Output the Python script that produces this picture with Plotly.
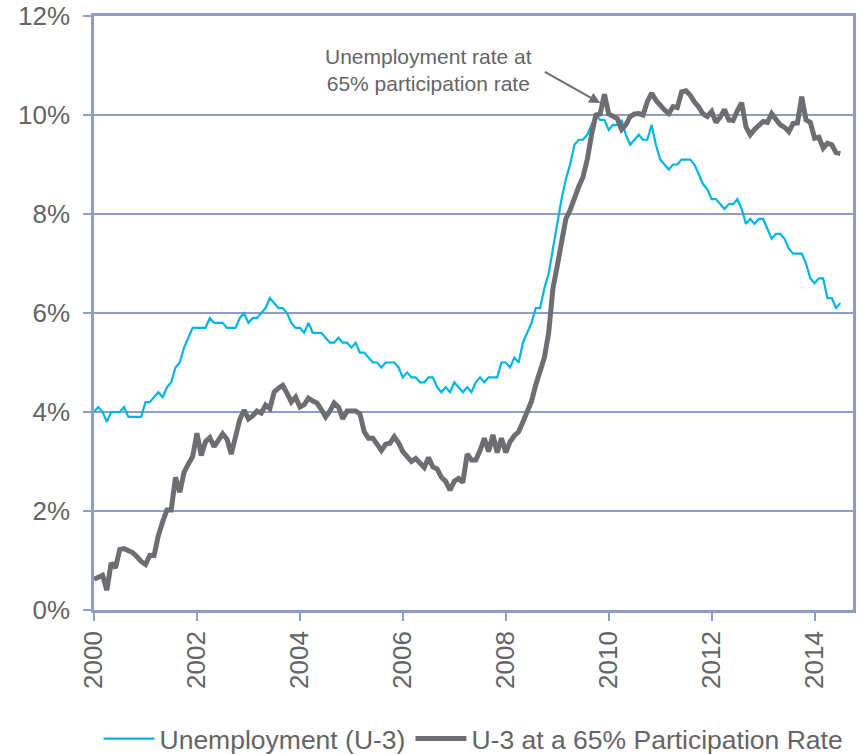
import plotly.graph_objects as go

# Monthly values, Jan 2000 .. Jul 2014
u3 = [
    4.0, 4.1, 4.0, 3.8, 4.0, 4.0, 4.0, 4.1, 3.9, 3.9, 3.9, 3.9,
    4.2, 4.2, 4.3, 4.4, 4.3, 4.5, 4.6, 4.9, 5.0, 5.3, 5.5, 5.7,
    5.7, 5.7, 5.7, 5.9, 5.8, 5.8, 5.8, 5.7, 5.7, 5.7, 5.9, 6.0,
    5.8, 5.9, 5.9, 6.0, 6.1, 6.3, 6.2, 6.1, 6.1, 6.0, 5.8, 5.7,
    5.7, 5.6, 5.8, 5.6, 5.6, 5.6, 5.5, 5.4, 5.4, 5.5, 5.4, 5.4,
    5.3, 5.4, 5.2, 5.2, 5.1, 5.0, 5.0, 4.9, 5.0, 5.0, 5.0, 4.9,
    4.7, 4.8, 4.7, 4.7, 4.6, 4.6, 4.7, 4.7, 4.5, 4.4, 4.5, 4.4,
    4.6, 4.5, 4.4, 4.5, 4.4, 4.6, 4.7, 4.6, 4.7, 4.7, 4.7, 5.0,
    5.0, 4.9, 5.1, 5.0, 5.4, 5.6, 5.8, 6.1, 6.1, 6.5, 6.8, 7.3,
    7.8, 8.3, 8.7, 9.0, 9.4, 9.5, 9.5, 9.6, 9.8, 10.0, 9.9, 9.9,
    9.7, 9.8, 9.8, 9.9, 9.6, 9.4, 9.5, 9.6, 9.5, 9.5, 9.8, 9.4,
    9.1, 9.0, 8.9, 9.0, 9.0, 9.1, 9.1, 9.1, 9.0, 8.8, 8.6, 8.5,
    8.3, 8.3, 8.2, 8.1, 8.2, 8.2, 8.3, 8.1, 7.8, 7.9, 7.8, 7.9,
    7.9, 7.7, 7.5, 7.6, 7.6, 7.5, 7.3, 7.2, 7.2, 7.2, 7.0, 6.7,
    6.6, 6.7, 6.7, 6.3, 6.3, 6.1, 6.2,
]

u3_65 = [
    0.62, 0.66, 0.70, 0.40, 0.95, 0.85, 1.22, 1.24, 1.20, 1.16, 1.08, 0.98,
    0.92, 1.10, 1.10, 1.50, 1.78, 2.02, 2.02, 2.68, 2.38, 2.78, 2.95, 3.10,
    3.57, 3.12, 3.40, 3.48, 3.30, 3.45, 3.56, 3.45, 3.15, 3.50, 3.85, 4.04,
    3.86, 3.92, 4.02, 3.98, 4.14, 4.07, 4.40, 4.48, 4.54, 4.38, 4.20, 4.30,
    4.10, 4.15, 4.28, 4.22, 4.18, 4.05, 3.90, 4.02, 4.18, 4.10, 3.86, 4.02,
    4.03, 4.02, 3.96, 3.60, 3.47, 3.47, 3.35, 3.22, 3.35, 3.37, 3.50, 3.38,
    3.20, 3.08, 3.00, 3.06, 2.95, 2.88, 3.08, 2.89, 2.85, 2.68, 2.60, 2.42,
    2.60, 2.66, 2.58, 3.15, 3.03, 3.03, 3.22, 3.47, 3.20, 3.54, 3.18, 3.47,
    3.18, 3.40, 3.52, 3.60, 3.80, 4.00, 4.22, 4.55, 4.80, 5.10, 5.60, 6.50,
    6.95, 7.50, 7.90, 8.08, 8.35, 8.55, 8.75, 9.10, 9.60, 10.00, 10.02, 10.42,
    10.02, 9.98, 9.93, 9.71, 9.80, 9.97, 10.02, 10.03, 10.00, 10.27, 10.44, 10.30,
    10.18, 10.10, 10.03, 10.17, 10.15, 10.47, 10.49, 10.40, 10.26, 10.16, 10.02, 9.97,
    10.07, 9.85, 9.96, 10.11, 9.90, 9.89, 10.09, 10.25, 9.76, 9.60, 9.71, 9.80,
    9.87, 9.85, 10.03, 9.91, 9.80, 9.75, 9.66, 9.83, 9.84, 10.37, 9.90, 9.85,
    9.53, 9.55, 9.33, 9.43, 9.40, 9.24, 9.22,
]

start_year = 2000
x_vals = [start_year + i / 12 for i in range(len(u3))]

year_ticks = [2000, 2002, 2004, 2006, 2008, 2010, 2012, 2014]
y_ticks = [0, 2, 4, 6, 8, 10, 12]

series_names = ["Unemployment (U-3)", "U-3 at a 65% Participation Rate"]
annotation_text = "Unemployment rate at<br>65% participation rate"

TEXT = "#646466"
GRID = "#8E9CC6"
BLUE = "#00B5E2"
GRAY = "#6D6E71"
FONT = "Liberation Sans, Arial, sans-serif"

fig = go.Figure()
fig.add_trace(go.Scatter(x=x_vals, y=u3, mode="lines", name=series_names[0],
                         line=dict(color=BLUE, width=2.2)))
fig.add_trace(go.Scatter(x=x_vals, y=u3_65, mode="lines", name=series_names[1],
                         line=dict(color=GRAY, width=5)))

# arrow (no text)
fig.add_annotation(x=2009.835, y=10.24, ax=2008.73, ay=10.89, axref="x", ayref="y",
                   xref="x", yref="y", text="", showarrow=True,
                   arrowhead=2, arrowsize=1.1, arrowwidth=2, arrowcolor=GRAY, standoff=0)
# text
fig.add_annotation(x=2006.49, y=10.91, xref="x", yref="y", text=annotation_text,
                   showarrow=False, font=dict(family=FONT, size=21, color=TEXT),
                   xanchor="center", yanchor="middle", align="center")

fig.update_layout(
    width=862, height=754,
    margin=dict(l=94, r=9, t=16, b=144, autoexpand=False),
    paper_bgcolor="white", plot_bgcolor="white",
    font=dict(family=FONT, size=26, color=TEXT),
    showlegend=True,
    legend=dict(orientation="h", x=0.5, xanchor="center", y=-0.217, yanchor="middle",
                font=dict(family=FONT, size=26.5, color=TEXT), itemwidth=51,
                bgcolor="rgba(0,0,0,0)", tracegroupgap=0),
)
fig.update_xaxes(range=[2000, 2014.746], tickmode="array", tickvals=year_ticks,
                 ticktext=[str(y) for y in year_ticks], tickangle=-90,
                 showgrid=False, zeroline=False, showline=True, linecolor=GRID,
                 linewidth=2.5, mirror=True, ticks="outside", ticklen=8,
                 tickcolor=GRID, tickwidth=2, automargin=False,
                 tickfont=dict(family=FONT, size=26, color=TEXT))
fig.update_yaxes(range=[0, 12], tickmode="array", tickvals=y_ticks,
                 ticktext=[f"{v}%" for v in y_ticks], showgrid=True,
                 gridcolor=GRID, gridwidth=1.5, zeroline=False, showline=True,
                 linecolor=GRID, linewidth=2.5, mirror=True, ticks="outside",
                 ticklen=8, tickcolor=GRID, tickwidth=2, ticklabelstandoff=8,
                 automargin=False,
                 tickfont=dict(family=FONT, size=26, color=TEXT))

fig.write_html("out.html", config={"displayModeBar": False},
               post_script="document.body.style.margin='0';document.body.style.overflow='hidden';")
